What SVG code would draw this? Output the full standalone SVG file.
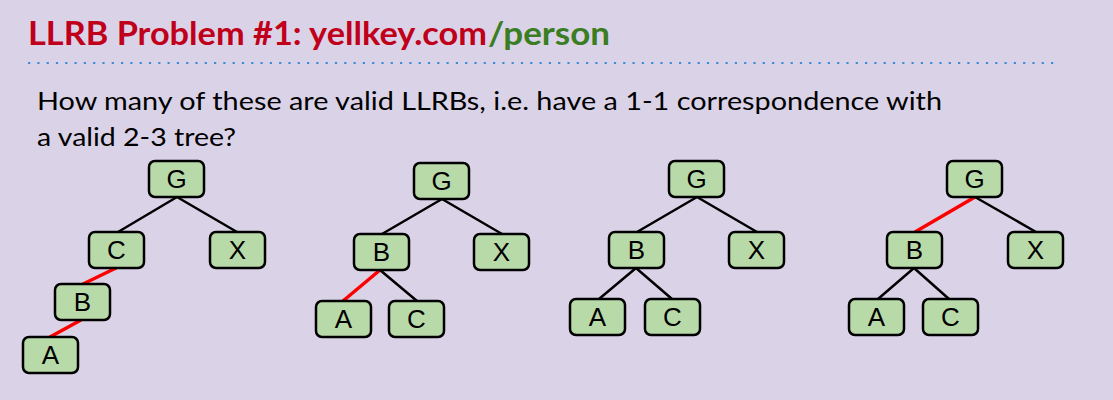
<svg xmlns="http://www.w3.org/2000/svg" width="1113" height="400" viewBox="0 0 1113 400">
<style>
.n rect{fill:#b8daa9;stroke:#000;stroke-width:2.5}
.n text{font-family:"Liberation Sans",Arial,sans-serif;font-size:26px;fill:#000;text-anchor:middle}
.e{stroke:#000;stroke-width:2.5;stroke-linecap:round}
.r{stroke:#ff0000;stroke-width:3.5;stroke-linecap:round}
.body{font-family:Lato,"Open Sans",sans-serif;font-size:24.5px;fill:#000}
.title{font-family:Lato,"Open Sans",sans-serif;font-size:32px;font-weight:bold}
</style>
<rect width="1113" height="400" fill="#dad3e8"/>
<text class="title" x="28" y="45" fill="#c0001a" textLength="459" lengthAdjust="spacingAndGlyphs">LLRB Problem #1: yellkey.com</text>
<text class="title" x="488" y="45" fill="#3a7d22" textLength="122" lengthAdjust="spacingAndGlyphs">/person</text>
<line x1="28" y1="63" x2="1060" y2="63" stroke="#3b8ed6" stroke-width="2.2" stroke-dasharray="2.2 7.1"/>
<text class="body" x="37" y="110" textLength="905" lengthAdjust="spacingAndGlyphs">How many of these are valid LLRBs, i.e. have a 1-1 correspondence with</text>
<text class="body" x="37" y="146" textLength="199" lengthAdjust="spacingAndGlyphs">a valid 2-3 tree?</text>
<g id="connectors">
<line class="e" x1="177" y1="197" x2="118" y2="232"/>
<line class="e" x1="177" y1="197" x2="237" y2="232"/>
<line class="r" x1="116" y1="268" x2="83" y2="284"/>
<line class="r" x1="81" y1="320" x2="50" y2="337"/>
<line class="e" x1="442" y1="199" x2="382" y2="234"/>
<line class="e" x1="442" y1="199" x2="502" y2="234"/>
<line class="r" x1="380" y1="270" x2="343" y2="301"/>
<line class="e" x1="380" y1="270" x2="417" y2="301"/>
<line class="e" x1="697" y1="197" x2="637" y2="232"/>
<line class="e" x1="697" y1="197" x2="757" y2="232"/>
<line class="e" x1="636" y1="268" x2="599" y2="299"/>
<line class="e" x1="636" y1="268" x2="672" y2="299"/>
<line class="r" x1="975" y1="197" x2="915" y2="232"/>
<line class="e" x1="975" y1="197" x2="1036" y2="232"/>
<line class="e" x1="914" y1="268" x2="878" y2="299"/>
<line class="e" x1="914" y1="268" x2="949" y2="299"/>
</g>
<g id="t1-G" class="n"><rect x="149" y="161" width="55" height="36" rx="6"/><text x="176.5" y="188">G</text></g>
<g id="t1-C" class="n"><rect x="89" y="232" width="55" height="36" rx="6"/><text x="116.5" y="259">C</text></g>
<g id="t1-X" class="n"><rect x="210" y="232" width="55" height="36" rx="6"/><text x="237.5" y="259">X</text></g>
<g id="t1-B" class="n"><rect x="55" y="284" width="55" height="36" rx="6"/><text x="82.5" y="311">B</text></g>
<g id="t1-A" class="n"><rect x="23" y="337" width="55" height="36" rx="6"/><text x="50.5" y="364">A</text></g>
<g id="t2-G" class="n"><rect x="414" y="163" width="55" height="36" rx="6"/><text x="441.5" y="190">G</text></g>
<g id="t2-B" class="n"><rect x="354" y="234" width="55" height="36" rx="6"/><text x="381.5" y="261">B</text></g>
<g id="t2-X" class="n"><rect x="474" y="234" width="55" height="36" rx="6"/><text x="501.5" y="261">X</text></g>
<g id="t2-A" class="n"><rect x="316" y="301" width="55" height="36" rx="6"/><text x="343.5" y="328">A</text></g>
<g id="t2-C" class="n"><rect x="389" y="301" width="55" height="36" rx="6"/><text x="416.5" y="328">C</text></g>
<g id="t3-G" class="n"><rect x="669" y="161" width="55" height="36" rx="6"/><text x="696.5" y="188">G</text></g>
<g id="t3-B" class="n"><rect x="609" y="232" width="55" height="36" rx="6"/><text x="636.5" y="259">B</text></g>
<g id="t3-X" class="n"><rect x="729" y="232" width="55" height="36" rx="6"/><text x="756.5" y="259">X</text></g>
<g id="t3-A" class="n"><rect x="570" y="299" width="55" height="36" rx="6"/><text x="597.5" y="326">A</text></g>
<g id="t3-C" class="n"><rect x="645" y="299" width="55" height="36" rx="6"/><text x="672.5" y="326">C</text></g>
<g id="t4-G" class="n"><rect x="947" y="161" width="55" height="36" rx="6"/><text x="974.5" y="188">G</text></g>
<g id="t4-B" class="n"><rect x="887" y="232" width="55" height="36" rx="6"/><text x="914.5" y="259">B</text></g>
<g id="t4-X" class="n"><rect x="1008" y="232" width="55" height="36" rx="6"/><text x="1035.5" y="259">X</text></g>
<g id="t4-A" class="n"><rect x="849" y="299" width="55" height="36" rx="6"/><text x="876.5" y="326">A</text></g>
<g id="t4-C" class="n"><rect x="923" y="299" width="55" height="36" rx="6"/><text x="950.5" y="326">C</text></g>
</svg>
